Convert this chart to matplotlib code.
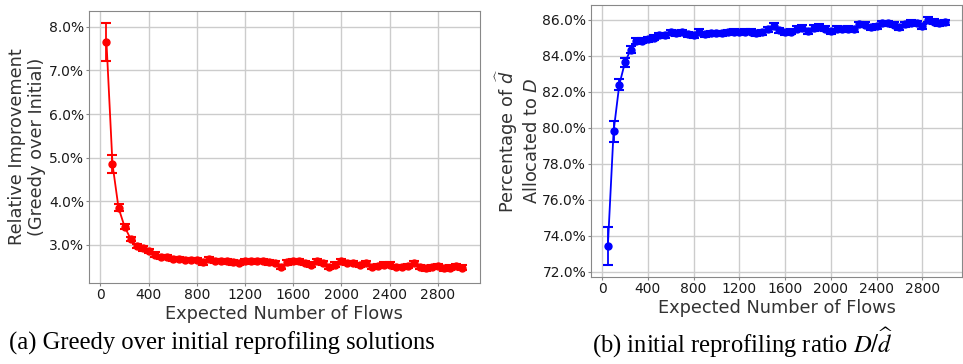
import matplotlib
matplotlib.use("Agg")
import matplotlib.pyplot as plt
from matplotlib.ticker import FuncFormatter
import numpy as np

# expected number of flows
flows = list(range(50, 3001, 50))

# (a) relative improvement, percent
greedy_imp = [7.65, 4.85, 3.85, 3.42, 3.14, 2.98, 2.92, 2.86, 2.78, 2.73,
              2.73, 2.68, 2.68, 2.65, 2.65, 2.65, 2.60, 2.68, 2.63, 2.63,
              2.62, 2.60, 2.58, 2.63, 2.62, 2.63, 2.63, 2.60, 2.58, 2.50,
              2.60, 2.62, 2.62, 2.58, 2.55, 2.62, 2.58, 2.50, 2.55, 2.62,
              2.58, 2.58, 2.54, 2.58, 2.50, 2.52, 2.55, 2.55, 2.50, 2.50,
              2.52, 2.58, 2.50, 2.46, 2.50, 2.52, 2.46, 2.48, 2.52, 2.48]
greedy_err = [0.43, 0.21, 0.08, 0.06, 0.05] + [0.05] * 55

# (b) percentage of d-hat allocated to D
alloc_pct = [73.45, 79.80, 82.40, 83.65, 84.35, 84.83, 84.83, 84.93, 85.02, 85.15,
             85.15, 85.30, 85.25, 85.30, 85.20, 85.15, 85.35, 85.20, 85.25, 85.25,
             85.27, 85.30, 85.35, 85.30, 85.35, 85.33, 85.27, 85.30, 85.48, 85.67,
             85.42, 85.30, 85.35, 85.50, 85.55, 85.37, 85.55, 85.63, 85.52, 85.37,
             85.50, 85.48, 85.50, 85.48, 85.76, 85.72, 85.60, 85.65, 85.80, 85.80,
             85.72, 85.60, 85.76, 85.85, 85.80, 85.65, 86.00, 85.90, 85.80, 85.88]
alloc_err = [1.05, 0.60, 0.32, 0.25, 0.20, 0.15] + [0.14] * 54

fig = plt.figure(figsize=(9.63, 3.64), dpi=100)
ax1 = fig.add_axes([88.7 / 963, 1 - 283 / 364, 391 / 963, 272 / 364])
ax2 = fig.add_axes([591 / 963, 1 - 277 / 364, 371 / 963, 272 / 364])

pct = FuncFormatter(lambda v, p: "%.1f%%" % v)

for ax, y, e, c in [(ax1, greedy_imp, greedy_err, "red"), (ax2, alloc_pct, alloc_err, "blue")]:
    ax.errorbar(flows, y, yerr=e, color=c, marker="o", markersize=5, lw=1.3,
                capsize=3.5, capthick=1.5, elinewidth=1.3)
    ax.grid(True, color="#cccccc", lw=1)
    ax.set_axisbelow(True)
    for s in ax.spines.values():
        s.set_color("#888888")
    ax.tick_params(colors="#888888", labelcolor="#1a1a1a", labelsize=10, length=2.5, pad=1)
    ax.set_xticks(range(0, 3000, 400))
    ax.yaxis.set_major_formatter(pct)
    ax.set_xlabel("Expected Number of Flows", fontsize=12.8, color="#333333", labelpad=2)

ax1.set_ylabel("Relative Improvement\n(Greedy over Initial)", fontsize=12.8, color="#333333",
               linespacing=1.2)
ax2.set_ylabel("Percentage of $\\widehat{d}$\nAllocated to $D$", fontsize=12.8, color="#333333",
               linespacing=1.2)
ax1.yaxis.set_label_coords(-0.108, 0.5)
ax2.yaxis.set_label_coords(-0.135, 0.5)
ax2.set_yticks(np.arange(72, 86.1, 2))

fig.text(222 / 963, 1 - 343 / 364, "(a) Greedy over initial reprofiling solutions",
         ha="center", va="center", fontsize=17.7, family="Liberation Serif")
fig.text(743 / 963, 1 - 343 / 364, "(b) initial reprofiling ratio $D/\\widehat{d}$",
         ha="center", va="center", fontsize=17.7, family="Liberation Serif",
         math_fontfamily="stix")

fig.savefig("out.png", dpi=100)
